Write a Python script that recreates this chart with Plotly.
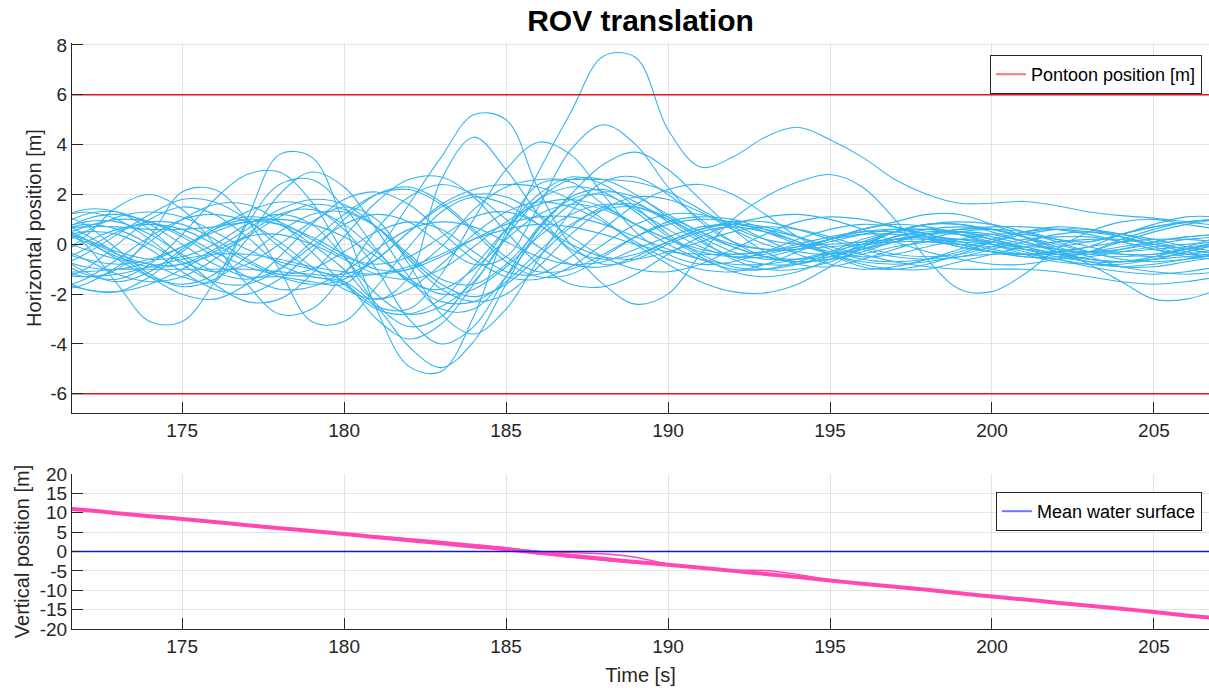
import plotly.graph_objects as go

# Time grid of the sampled runs [s]
t = list(range(171, 208))

# Horizontal ROV position for each simulated run [m], one value per second
h00 = [0.5, 0.2, -0.3, -0.6, -0.5, 0.0, 0.8, 1.2, 0.8, -0.5,
       -2.0, -2.8, -2.5, -1.5, 0.3, 2.9, 5.3, 7.55, 7.5, 4.6,
       3.1, 3.5, 4.3, 4.7, 4.2, 3.5, 2.6, 2.0, 1.65, 1.65,
       1.72, 1.55, 1.3, 1.15, 1.05, 0.9, 0.75]
h01 = [0.8, 0.0, -1.6, -3.1, -3.1, -1.5, 0.8, 2.4, 2.6, 1.5,
       -0.2, -1.5, -1.8, -1.0, 0.2, 1.2, 1.6, 1.4, 0.8, 0.2,
       -0.3, -0.5, -0.4, -0.1, 0.2, 0.4, 0.4, 0.2, -0.1, -0.3,
       -0.4, -0.3, -0.1, 0.1, 0.2, 0.2, 0.1]
h02 = [0.3, -0.2, -0.6, -0.8, -1.3, -1.5, 1.0, 3.6, 3.5, 0.8,
       -2.6, -4.9, -5.1, -2.9, 0.5, 2.4, 2.5, 1.6, 0.8, 0.2,
       -0.2, -0.4, -0.3, 0.0, 0.3, 0.5, 0.5, 0.3, 0.0, -0.3,
       -0.5, -0.6, -0.5, -0.3, -0.1, 0.0, 0.1]
h03 = [0.6, 1.2, 1.3, 0.8, 0.0, -0.8, -1.3, -1.3, -1.5, -1.6,
       -0.3, 1.6, 3.5, 5.2, 5.0, 2.2, 0.0, -0.8, -0.6, 0.0,
       0.5, 0.7, 0.5, 0.1, -0.3, -0.5, -0.4, -0.1, 0.2, 0.4,
       0.4, 0.2, 0.1, 0.4, 0.7, 0.9, 1.0]
h04 = [-1.2, -1.8, -1.9, -1.3, -0.3, 0.6, 1.0, 0.8, 0.0, -1.0,
       -2.2, -1.3, 2.6, 4.3, 3.0, 1.2, -0.2, -0.6, -0.4, 0.1,
       0.6, 0.9, 0.9, 0.6, 0.2, -0.2, -0.5, -0.6, -0.5, -0.2,
       0.1, 0.4, 0.5, 0.4, 0.2, -0.1, -0.3]
h05 = [0.5, 0.9, 0.9, 0.4, -0.4, -1.1, -1.4, -1.0, -0.1, 0.8,
       1.2, 0.9, 0.0, -0.8, -0.5, 1.5, 3.8, 4.8, 4.0, 2.3,
       0.9, 0.1, -0.2, -0.2, 0.1, 0.4, 0.6, 0.6, 0.4, 0.1,
       -0.2, -0.4, -0.4, -0.2, 0.1, 0.3, 0.4]
h06 = [-0.8, -0.2, 0.5, 0.9, 0.8, 0.2, -0.6, -1.2, -1.3, -1.6,
       -2.5, -2.6, -1.2, 1.0, 3.0, 4.1, 3.6, 2.0, 0.5, -0.4,
       -0.8, -0.7, -0.3, 0.2, 0.6, 0.8, 0.7, 0.4, 0.0, -0.3,
       -0.5, -0.5, -0.3, 0.2, 0.6, 0.9, 1.0]
h07 = [1.3, 0.8, -0.2, -1.2, -1.7, -1.4, -0.5, 0.5, 1.2, 1.3,
       0.7, -0.4, -1.4, -1.6, -0.8, 0.6, 2.0, 3.2, 3.7, 3.0,
       1.8, 0.6, -0.3, -0.8, -0.9, -0.6, -0.2, 0.2, 0.5, 0.6,
       0.5, 0.2, -0.1, -0.4, -0.5, -0.4, -0.2]
h08 = [-0.3, -1.1, -1.5, -1.1, -0.2, 0.7, 1.1, 0.9, 0.2, -0.5,
       -0.8, -0.5, 0.3, 1.1, 1.3, 0.8, -0.3, -1.6, -2.4, -2.0,
       -0.4, 1.0, 1.9, 2.5, 2.8, 2.3, 1.0, -0.6, -1.8, -1.9,
       -1.2, -0.2, 0.5, 0.9, 1.0, 0.8, 0.6]
h09 = [0.2, 0.7, 1.0, 0.9, 0.4, -0.3, -0.9, -1.2, -1.0, -0.3,
       0.5, 0.9, 0.6, -0.3, -1.1, -1.2, -0.5, 0.6, 1.6, 2.2,
       2.4, 2.0, 1.2, 0.3, -0.4, -0.9, -1.0, -0.8, -0.4, 0.1,
       0.5, 0.7, 0.6, 0.3, -0.1, -0.4, -0.5]
h10 = [-1.0, -0.4, 0.4, 1.2, 1.8, 1.7, 1.0, -0.1, -1.0, -1.2,
       -0.6, 0.5, 1.6, 2.2, 2.4, 2.3, 1.8, 1.0, 0.0, -0.8,
       -1.5, -1.9, -1.95, -1.6, -0.9, -0.1, 0.5, 0.8, 0.8, 0.5,
       0.1, -0.3, -0.6, -0.7, -0.6, -0.3, 0.0]
h11 = [0.6, 0.1, -0.5, -0.9, -0.8, -0.2, 0.6, 1.4, 1.8, 1.6,
       0.7, -0.6, -1.8, -2.3, -2.0, -0.9, 0.4, 1.4, 1.9, 1.8,
       1.3, 0.6, 0.0, -0.3, -0.4, -0.2, 0.1, 0.4, 0.6, 0.6,
       0.3, -0.2, -0.8, -1.5, -2.2, -2.2, -1.8]
h12 = [-1.5, -1.0, 0.0, 1.0, 1.5, 1.2, 0.3, -0.8, -1.3, -1.5,
       -2.5, -4.1, -4.95, -3.9, -1.6, 0.6, 1.9, 2.2, 1.7, 0.9,
       0.1, -0.5, -0.8, -0.8, -0.5, -0.1, 0.3, 0.5, 0.5, 0.3,
       0.0, -0.2, -0.3, -0.2, 0.0, 0.2, 0.3]
h13 = [-0.8, -1.3, -1.0, 0.3, 2.1, 2.2, 1.0, -1.0, -3.1, -3.1,
       -1.7, -0.1, 1.3, 1.9, 1.6, 0.8, 0.0, -0.5, -0.6, -0.3,
       0.1, 0.5, 0.7, 0.6, 0.3, -0.1, -0.4, -0.5, -0.4, -0.1,
       0.2, 0.3, 0.3, 0.1, -0.2, -0.4, -0.4]
h14 = [-0.6, 0.3, 1.5, 2.0, 1.4, 0.0, -1.6, -2.8, -2.6, -1.2,
       0.6, 1.9, 2.4, 2.0, 1.0, -0.1, -0.8, -0.9, -0.5, 0.1,
       0.6, 0.8, 0.7, 0.3, -0.2, -0.6, -0.7, -0.6, -0.3, 0.1,
       0.4, 0.6, 0.6, 0.4, 0.1, -0.2, -0.4]
h15 = [0.9, 0.2, -0.6, -1.3, -1.6, -1.2, 0.2, 2.0, 2.9, 2.3,
       0.6, -1.3, -2.6, -2.6, -1.3, 0.4, 1.6, 2.1, 1.9, 1.2,
       0.5, 0.0, -0.2, -0.1, 0.2, 0.6, 0.9, 1.2, 1.2, 0.8,
       0.3, -0.3, -0.6, -0.7, -0.5, -0.1, 0.3]
h16 = [0.4, 0.8, 0.6, 0.0, -0.7, -1.1, -0.8, 0.0, 0.9, 1.5,
       1.0, -0.8, -2.8, -3.6, -2.6, -0.6, 1.3, 2.5, 2.7, 2.0,
       1.0, 0.1, -0.5, -0.7, -0.6, -0.3, 0.1, 0.4, 0.5, 0.4,
       0.1, -0.2, -0.4, -0.5, -0.4, -0.2, 0.0]
h17 = [-1.2, -1.3, -1.2, -0.9, -0.6, -0.4, -0.4, -0.6, -0.9, -1.1,
       -1.2, -1.0, -0.5, 0.2, 0.8, 1.1, 1.1, 0.8, 0.3, -0.2,
       -0.6, -0.8, -0.8, -0.6, -0.3, 0.0, 0.2, 0.3, 0.2, 0.0,
       -0.3, -0.6, -0.8, -0.9, -0.8, -0.6, -0.4]
h18 = [-0.2, -0.6, -0.8, -0.6, -0.1, 0.5, 0.9, 0.8, 0.3, -0.4,
       -1.0, -1.0, -0.1, 1.4, 2.3, 2.6, 2.6, 2.6, 2.5, 2.1,
       1.4, 0.7, 0.2, 0.0, 0.0, 0.1, 0.2, 0.2, 0.1, 0.0,
       -0.1, -0.1, 0.1, 0.4, 0.8, 1.1, 1.1]
h19 = [0.0, -0.6, -1.2, -1.5, -1.3, -0.6, 0.4, 1.2, 1.4, 0.8,
       -0.3, -1.5, -2.3, -2.3, -1.5, -0.3, 0.8, 1.4, 1.5, 1.1,
       0.5, -0.1, -0.5, -0.7, -0.6, -0.4, -0.1, 0.1, 0.2, 0.1,
       -0.1, -0.4, -0.7, -0.9, -0.9, -0.7, -0.5]
h20 = [1.0, 1.3, 1.0, 0.2, -0.8, -1.5, -1.6, -1.0, 0.1, 1.2,
       2.0, 2.2, 1.6, 0.5, -0.7, -1.3, -1.2, -0.5, 0.3, 0.9,
       1.1, 1.0, 0.6, 0.1, -0.4, -0.8, -1.0, -1.0, -0.7, -0.4,
       -0.1, 0.1, 0.2, 0.2, 0.0, -0.2, -0.4]
h21 = [-1.8, -1.4, -0.6, 0.3, 1.0, 1.2, 0.9, 0.1, -0.9, -1.8,
       -2.2, -1.8, -0.8, 0.4, 1.3, 1.7, 1.5, 0.9, 0.1, -0.6,
       -1.0, -1.1, -0.8, -0.3, 0.2, 0.6, 0.8, 0.7, 0.4, 0.0,
       -0.4, -0.7, -0.8, -0.8, -0.6, -0.3, 0.0]
h22 = [0.3, 1.0, 1.2, 0.9, 0.3, -0.5, -1.3, -1.8, -1.7, -1.1,
       -0.2, 0.6, 0.9, 0.7, 0.1, -0.5, -0.8, -0.7, -0.2, 0.3,
       0.7, 0.8, 0.6, 0.3, -0.1, -0.4, -0.7, -0.9, -1.0, -1.0,
       -1.0, -1.1, -1.3, -1.5, -1.6, -1.5, -1.3]
h23 = [-0.5, -0.9, -1.0, -0.7, -0.1, 0.6, 1.3, 1.7, 1.5, 0.6,
       -1.0, -3.0, -4.0, -3.3, -1.3, 0.7, 1.8, 2.0, 1.4, 0.6,
       -0.1, -0.5, -0.5, -0.2, 0.2, 0.5, 0.6, 0.4, 0.1, -0.2,
       -0.4, -0.4, -0.3, -0.1, 0.1, 0.3, 0.4]
h24 = [0.7, 0.2, -0.4, -0.8, -0.8, -0.4, 0.3, 1.1, 1.6, 1.4,
       0.7, -0.5, -1.6, -2.1, -1.6, -0.5, 0.7, 1.5, 1.6, 1.0,
       0.2, -0.6, -1.0, -1.0, -0.7, -0.2, 0.2, 0.4, 0.4, 0.2,
       -0.1, -0.4, -0.6, -0.7, -0.6, -0.5, -0.5]
h25 = [-1.1, -1.1, -1.0, -1.0, -1.0, -1.0, -1.0, -1.1, -1.2, -1.3,
       -1.2, -0.9, -0.4, 0.2, 0.6, 0.8, 0.7, 0.4, 0.0, -0.3,
       -0.4, -0.4, -0.3, -0.2, -0.1, 0.0, 0.1, 0.1, 0.0, -0.1,
       -0.2, -0.3, -0.3, -0.3, -0.2, -0.1, 0.0]
h26 = [0.6, 0.7, 0.7, 0.6, 0.6, 0.7, 0.9, 1.0, 0.8, 0.3,
       -0.5, -1.4, -2.0, -1.8, -0.9, 0.3, 1.2, 1.6, 1.5, 1.0,
       0.4, -0.1, -0.5, -0.6, -0.5, -0.2, 0.1, 0.4, 0.6, 0.7,
       0.7, 0.6, 0.4, 0.1, -0.2, -0.5, -0.6]
h27 = [-1.4, -1.8, -1.9, -1.6, -1.0, -0.3, 0.3, 0.4, 0.0, -0.6,
       -1.2, -1.4, -1.0, -0.1, 0.9, 1.6, 1.8, 1.5, 0.8, 0.0,
       -0.6, -1.0, -1.0, -0.7, -0.3, 0.2, 0.5, 0.6, 0.5, 0.2,
       -0.2, -0.5, -0.7, -0.7, -0.5, -0.2, 0.1]
h28 = [0.2, 0.5, 0.4, -0.2, -1.1, -1.8, -2.0, -1.4, -0.3, 1.0,
       2.0, 2.3, 1.7, 0.6, -0.5, -1.1, -1.0, -0.4, 0.3, 0.8,
       1.0, 0.9, 0.5, 0.0, -0.4, -0.7, -0.8, -0.7, -0.5, -0.4,
       -0.4, -0.6, -0.9, -1.1, -1.2, -1.1, -0.9]
h29 = [-0.4, 0.1, 0.6, 0.8, 0.6, 0.0, -0.7, -1.3, -1.6, -1.4,
       -0.6, 0.5, 1.5, 2.0, 1.9, 1.2, 0.3, -0.5, -1.0, -1.1,
       -0.8, -0.2, 0.4, 0.9, 1.1, 1.0, 0.7, 0.3, -0.1, -0.3,
       -0.4, -0.3, -0.1, 0.4, 0.7, 0.9, 1.0]
h30 = [1.0, 0.4, -0.4, -1.3, -2.0, -2.2, -1.6, -0.5, 0.8, 1.8,
       2.1, 1.6, 0.5, -0.6, -1.3, -1.4, -0.9, 0.0, 0.8, 1.2,
       1.2, 0.8, 0.2, -0.4, -0.8, -1.0, -0.9, -0.6, -0.2, 0.2,
       0.5, 0.6, 0.5, 0.3, 0.0, -0.3, -0.5]
h31 = [-0.5, -1.2, -1.4, -0.8, 0.4, 1.8, 2.8, 2.9, 1.7, -0.4,
       -2.4, -3.3, -2.9, -1.3, 0.6, 2.0, 2.7, 2.4, 1.5, 0.4,
       -0.4, -0.9, -1.0, -0.8, -0.4, 0.1, 0.5, 0.8, 0.9, 0.8,
       0.5, 0.1, -0.3, -0.6, -0.7, -0.6, -0.4]
h32 = [0.9, 1.4, 1.3, 0.6, -0.5, -1.6, -2.3, -2.2, -1.2, 0.3,
       1.7, 2.6, 2.7, 1.9, 0.5, -0.8, -1.6, -1.7, -1.2, -0.4,
       0.3, 0.8, 1.1, 1.2, 1.0, 0.6, 0.1, -0.3, -0.6, -0.8,
       -0.8, -0.6, -0.3, 0.1, 0.5, 0.8, 1.0]
h33 = [-0.2, 0.5, 1.1, 1.3, 1.1, 0.5, -0.2, -0.7, -1.0, -1.5,
       -3.0, -3.8, -3.2, -1.6, 0.3, 1.8, 2.6, 2.6, 2.0, 1.1,
       0.3, -0.3, -0.6, -0.6, -0.4, -0.1, 0.3, 0.6, 0.7, 0.6,
       0.3, -0.1, -0.5, -0.9, -1.1, -1.2, -1.1]
h34 = [-1.9, -1.6, -0.9, 0.1, 1.0, 1.6, 1.6, 0.9, -0.3, -1.6,
       -2.6, -2.8, -2.2, -0.9, 0.6, 1.8, 2.3, 2.1, 1.3, 0.3,
       -0.5, -1.1, -1.3, -1.1, -0.6, 0.0, 0.5, 0.8, 0.8, 0.6,
       0.3, 0.0, -0.3, -0.4, -0.4, -0.2, 0.1]

horizontal_runs = [h00, h01, h02, h03, h04, h05, h06, h07, h08, h09, h10,
                   h11, h12, h13, h14, h15, h16, h17, h18, h19, h20,
                   h21, h22, h23, h24, h25, h26, h27, h28, h29, h30,
                   h31, h32, h33, h34]

# Vertical ROV position for the runs [m]; they nearly coincide
v00 = [11.4, 10.7, 9.9, 9.1, 8.4, 7.6, 6.8, 6.0, 5.3, 4.5,
       3.7, 2.9, 2.1, 1.3, 0.6, -0.3, -1.1, -1.9, -2.7, -3.4,
       -4.2, -5.0, -5.8, -6.6, -7.5, -8.3, -9.1, -9.9, -10.8, -11.6,
       -12.4, -13.2, -14.0, -14.8, -15.6, -16.5, -17.3]
v01 = [11.4, 10.7, 9.9, 9.1, 8.4, 7.6, 6.8, 6.0, 5.3, 4.5,
       3.7, 2.9, 2.1, 1.3, 0.6, 0.0, -0.3, -0.6, -1.5, -3.2,
       -4.2, -5.0, -5.8, -6.6, -7.5, -8.3, -9.1, -9.9, -10.8, -11.6,
       -12.4, -13.2, -14.0, -14.8, -15.6, -16.5, -17.3]
v02 = [11.4, 10.7, 9.9, 9.1, 8.4, 7.6, 6.8, 6.0, 5.3, 4.5,
       3.7, 2.9, 2.1, 1.3, 0.6, -0.3, -1.1, -1.9, -2.7, -3.4,
       -4.2, -4.8, -4.9, -5.9, -7.3, -8.3, -9.1, -9.9, -10.8, -11.6,
       -12.4, -13.2, -14.0, -14.8, -15.6, -16.5, -17.3]
v03 = [11.4, 10.7, 9.9, 9.1, 8.4, 7.6, 6.8, 6.0, 5.3, 4.5,
       4.0, 3.3, 2.6, 1.8, 1.0, 0.0, -1.0, -1.9, -2.7, -3.4,
       -4.2, -5.0, -5.8, -6.6, -7.5, -8.3, -9.1, -9.9, -10.8, -11.6,
       -12.4, -13.2, -14.0, -14.8, -15.6, -16.5, -17.3]
v04 = [11.4, 10.7, 9.9, 9.1, 8.4, 7.6, 6.8, 6.0, 5.3, 4.5,
       3.7, 2.9, 2.1, 1.3, 0.6, -0.6, -1.5, -2.3, -3.0, -3.6,
       -4.3, -5.1, -5.9, -6.7, -7.5, -8.3, -9.1, -9.9, -10.8, -11.6,
       -12.4, -13.2, -14.0, -14.8, -15.6, -16.5, -17.3]

vertical_runs = [v00, v01, v02, v03, v04]

# Reference levels
pontoon_levels = [6, -6]
water_surface = 0

# Axis ticks (labels written with a plain hyphen for negatives)
time_ticks = [175, 180, 185, 190, 195, 200, 205]
top_ticks = [-6, -4, -2, 0, 2, 4, 6, 8]
bottom_ticks = [-20, -15, -10, -5, 0, 5, 10, 15, 20]

x_range = [171.6, 206.7]
top_yrange = [-6.77, 8.08]
bottom_yrange = [-20, 20]

RUN_BLUE = "#33b4f0"
RUN_PINK = "#ff48b4"
PONTOON_RED = "#e0141c"
SURFACE_BLUE = "#1414e0"
TEXT = "#262626"
GRID = "#e3e3e3"

fig = go.Figure()

for run in horizontal_runs:
    fig.add_trace(go.Scatter(
        x=t, y=run, mode="lines", xaxis="x", yaxis="y",
        line=dict(color=RUN_BLUE, width=1.1, shape="spline", smoothing=1.0),
        showlegend=False, hoverinfo="skip"))

for level in pontoon_levels:
    fig.add_trace(go.Scatter(
        x=[t[0], t[-1]], y=[level, level], mode="lines", xaxis="x", yaxis="y",
        line=dict(color=PONTOON_RED, width=1.6), showlegend=False,
        hoverinfo="skip"))

fig.add_trace(go.Scatter(
    x=[None], y=[None], mode="lines", name="Pontoon position [m]",
    xaxis="x", yaxis="y", legend="legend",
    line=dict(color="#ff7373", width=2)))

for i, run in enumerate(vertical_runs):
    fig.add_trace(go.Scatter(
        x=t, y=run, mode="lines", xaxis="x2", yaxis="y2",
        line=dict(color=RUN_PINK, width=4.0 if i == 0 else 1.4,
                  shape="spline", smoothing=0.8),
        showlegend=False, hoverinfo="skip"))

fig.add_trace(go.Scatter(
    x=[t[0], t[-1]], y=[water_surface, water_surface], mode="lines",
    xaxis="x2", yaxis="y2", line=dict(color=SURFACE_BLUE, width=1.6),
    showlegend=False, hoverinfo="skip"))

fig.add_trace(go.Scatter(
    x=[None], y=[None], mode="lines", name="Mean water surface",
    xaxis="x2", yaxis="y2", legend="legend2",
    line=dict(color="#7373ff", width=2)))


def tick_labels(values):
    return [str(v) for v in values]


axis_common = dict(
    showline=True, linecolor=TEXT, linewidth=1, mirror=False,
    ticks="inside", ticklen=11, tickcolor=TEXT, tickwidth=1,
    showgrid=True, gridcolor=GRID, gridwidth=1, zeroline=False,
    tickfont=dict(size=19, color=TEXT), automargin=False,
)

fig.update_layout(
    width=1209, height=688,
    margin=dict(l=72, r=0, t=43, b=59),
    paper_bgcolor="white", plot_bgcolor="white",
    font=dict(family="Liberation Sans, Arial, sans-serif", size=19, color=TEXT),
    title=dict(text="<b>ROV translation</b>", x=0.5, xref="paper",
               xanchor="center", y=1 - 20 / 688, yref="container",
               yanchor="middle", font=dict(size=30, color="#000000")),
    xaxis=dict(domain=[0, 1], anchor="y", range=x_range,
               tickvals=time_ticks, ticktext=tick_labels(time_ticks),
               **axis_common),
    yaxis=dict(domain=[0.3686, 1], anchor="x", range=top_yrange,
               tickvals=top_ticks, ticktext=tick_labels(top_ticks),
               title=dict(text="Horizontal position [m]", standoff=3,
                          font=dict(size=20, color=TEXT)),
               **axis_common),
    xaxis2=dict(domain=[0, 1], anchor="y2", range=x_range,
                tickvals=time_ticks, ticktext=tick_labels(time_ticks),
                title=dict(text="Time [s]", standoff=12,
                           font=dict(size=20, color=TEXT)),
                **axis_common),
    yaxis2=dict(domain=[0, 0.2645], anchor="x2", range=bottom_yrange,
                tickvals=bottom_ticks, ticktext=tick_labels(bottom_ticks),
                title=dict(text="Vertical position [m]", standoff=4,
                           font=dict(size=20, color=TEXT)),
                **axis_common),
    legend=dict(x=0.9938, xanchor="right", y=0.9795, yanchor="top",
                bgcolor="white", bordercolor=TEXT, borderwidth=1,
                font=dict(size=18, color="#000000")),
    legend2=dict(x=0.9938, xanchor="right", y=0.2338, yanchor="top",
                 bgcolor="white", bordercolor=TEXT, borderwidth=1,
                 font=dict(size=18, color="#000000")),
)

fig.write_html("out.html")
